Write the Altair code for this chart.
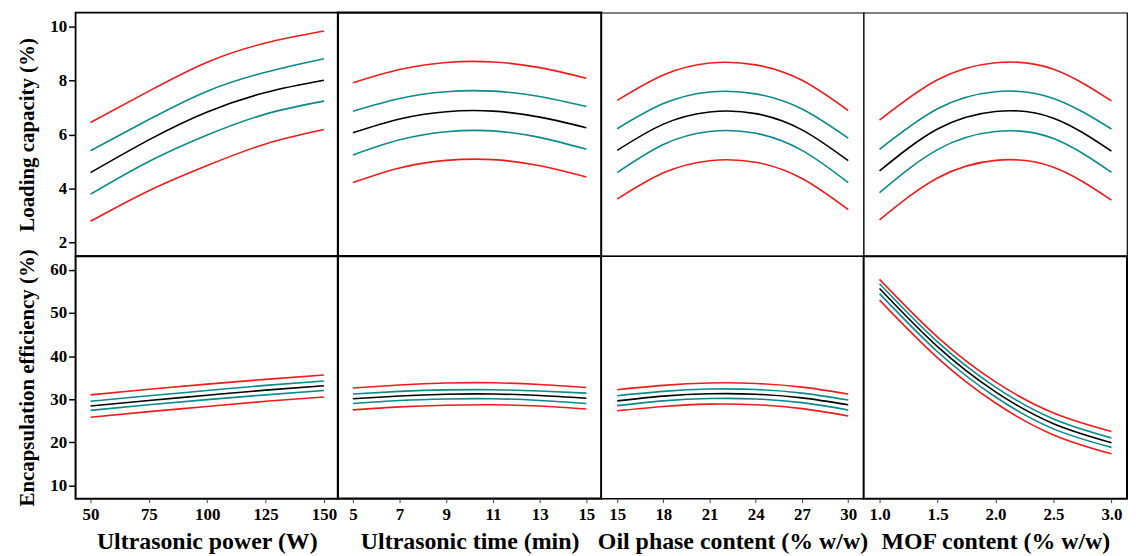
import altair as alt
import pandas as pd

# ---------------- data ----------------
series_names = ["Upper limit", "Upper band", "Predicted", "Lower band", "Lower limit"]
series_colors = ["#ee1c1c", "#0a8a8a", "#000000", "#0a8a8a", "#ee1c1c"]

power = [50, 75, 100, 125, 150]
time_min = [5, 7, 9, 11, 13, 15]
oil = [15, 18, 21, 24, 27, 30]
mof = [1.0, 1.5, 2.0, 2.5, 3.0]

# Loading capacity (%)
lc_power = {
    "Upper limit": [6.44, 7.6, 8.67, 9.38, 9.82],
    "Upper band": [5.40, 6.55, 7.6, 8.3, 8.80],
    "Predicted": [4.59, 5.8, 6.83, 7.55, 8.0],
    "Lower band": [3.79, 5.0, 5.98, 6.75, 7.23],
    "Lower limit": [2.79, 3.92, 4.85, 5.65, 6.18],
}
lc_time = {
    "Upper limit": [7.91, 8.40, 8.66, 8.68, 8.47, 8.08],
    "Upper band": [6.86, 7.33, 7.58, 7.60, 7.40, 7.03],
    "Predicted": [6.06, 6.57, 6.84, 6.86, 6.64, 6.25],
    "Lower band": [5.24, 5.80, 6.10, 6.13, 5.89, 5.45],
    "Lower limit": [4.22, 4.76, 5.04, 5.07, 4.84, 4.43],
}
lc_oil = {
    "Upper limit": [7.26, 8.20, 8.64, 8.57, 8.00, 6.88],
    "Upper band": [6.21, 7.14, 7.57, 7.50, 6.94, 5.86],
    "Predicted": [5.41, 6.38, 6.83, 6.77, 6.17, 5.03],
    "Lower band": [4.59, 5.63, 6.11, 6.04, 5.41, 4.22],
    "Lower limit": [3.61, 4.58, 5.03, 4.97, 4.37, 3.22],
}
lc_mof = {
    "Upper limit": [6.53, 8.02, 8.65, 8.41, 7.24],
    "Upper band": [5.45, 6.95, 7.58, 7.33, 6.20],
    "Predicted": [4.65, 6.20, 6.85, 6.60, 5.38],
    "Lower band": [3.85, 5.44, 6.11, 5.85, 4.60],
    "Lower limit": [2.84, 4.39, 5.04, 4.79, 3.57],
}

# Encapsulation efficiency (%)
ee_power = {
    "Upper limit": [31.0, 32.3, 33.5, 34.6, 35.6],
    "Upper band": [29.5, 30.8, 32.0, 33.2, 34.2],
    "Predicted": [28.4, 29.7, 30.9, 32.1, 33.1],
    "Lower band": [27.4, 28.7, 29.9, 31.0, 32.0],
    "Lower limit": [25.8, 27.1, 28.3, 29.5, 30.5],
}
ee_time = {
    "Upper limit": [32.6, 33.3, 33.75, 33.8, 33.4, 32.7],
    "Upper band": [31.2, 31.8, 32.15, 32.2, 31.9, 31.4],
    "Predicted": [30.1, 30.75, 31.15, 31.2, 30.85, 30.2],
    "Lower band": [29.0, 29.7, 30.05, 30.1, 29.7, 29.0],
    "Lower limit": [27.5, 28.2, 28.6, 28.7, 28.4, 27.7],
}
ee_oil = {
    "Upper limit": [32.2, 33.2, 33.75, 33.65, 32.8, 31.2],
    "Upper band": [30.8, 31.8, 32.35, 32.25, 31.4, 29.8],
    "Predicted": [29.6, 30.7, 31.25, 31.15, 30.3, 28.7],
    "Lower band": [28.5, 29.6, 30.15, 30.05, 29.2, 27.5],
    "Lower limit": [27.3, 28.3, 28.85, 28.7, 27.8, 26.1],
}
ee_mof = {
    "Upper limit": [57.8, 44.4, 34.0, 26.8, 22.5],
    "Upper band": [56.8, 43.3, 32.8, 25.4, 21.0],
    "Predicted": [55.7, 42.2, 31.7, 24.3, 19.9],
    "Lower band": [54.5, 41.0, 30.5, 23.1, 18.8],
    "Lower limit": [53.0, 39.6, 29.1, 21.7, 17.3],
}

x_titles = ["Ultrasonic power (W)", "Ultrasonic time (min)",
            "Oil phase content (% w/w)", "MOF content (% w/w)"]
x_ticks = [[50, 75, 100, 125, 150], [5, 7, 9, 11, 13, 15],
           [15, 18, 21, 24, 27, 30], [1.0, 1.5, 2.0, 2.5, 3.0]]
x_formats = ["d", "d", "d", ".1f"]
x_domains = [[43.6, 156.0], [4.36, 15.64], [13.97, 31.0], [0.863, 3.134]]
y_titles = ["Loading capacity (%)", "Encapsulation efficiency (%)"]
y_ticks = [[2, 4, 6, 8, 10], [10, 20, 30, 40, 50, 60]]
y_domains = [[1.5, 10.5], [6.9, 63.2]]

FONT = "Liberation Serif"


def to_frame(xs, d):
    rows = []
    for s in series_names:
        for xv, yv in zip(xs, d[s]):
            rows.append({"x": xv, "y": yv, "series": s})
    return pd.DataFrame(rows)


def panel(xs, d, col, row, w, h, stroke_w):
    df = to_frame(xs, d)
    if row == 1:
        xaxis = alt.Axis(title=x_titles[col], values=x_ticks[col], format=x_formats[col],
                         grid=False, domain=False, ticks=True, tickSize=4, tickColor="#444",
                         labelFont=FONT, labelFontWeight="bold", labelFontSize=17,
                         labelColor="black", labelPadding=4, labelFlush=False,
                         titleFont=FONT, titleFontWeight="bold", titleFontSize=24,
                         titleColor="black", titlePadding=7)
    else:
        xaxis = None
    if col == 0:
        yaxis = alt.Axis(title=y_titles[row], values=y_ticks[row], grid=False, domain=False,
                         ticks=True, tickSize=7, tickColor="black", tickWidth=1.5,
                         labelFont=FONT, labelFontWeight="bold", labelFontSize=17,
                         labelColor="black", labelPadding=2,
                         titleFont=FONT, titleFontWeight="bold", titleFontSize=21,
                         titleColor="black", titlePadding=12)
    else:
        yaxis = None
    return alt.Chart(df).mark_line(strokeWidth=1.6, interpolate="natural").encode(
        x=alt.X("x:Q", scale=alt.Scale(domain=x_domains[col], nice=False, zero=False), axis=xaxis),
        y=alt.Y("y:Q", scale=alt.Scale(domain=y_domains[row], nice=False, zero=False), axis=yaxis),
        color=alt.Color("series:N", scale=alt.Scale(domain=series_names, range=series_colors),
                        legend=None),
        detail="series:N",
    ).properties(width=w, height=h,
                 view=alt.ViewBackground(stroke="black", strokeWidth=stroke_w, fill="white"))


xs_list = [power, time_min, oil, mof]
top_data = [lc_power, lc_time, lc_oil, lc_mof]
bot_data = [ee_power, ee_time, ee_oil, ee_mof]
widths = [264, 265, 264, 265]
top_strokes = [1.8, 2.2, 1.2, 1.2]
bot_strokes = [2.0, 2.2, 1.4, 2.0]

panels = [panel(xs_list[i], top_data[i], i, 0, widths[i], 245, top_strokes[i]) for i in range(4)]
panels += [panel(xs_list[i], bot_data[i], i, 1, widths[i], 244, bot_strokes[i]) for i in range(4)]

chart = alt.concat(*panels, columns=4, spacing=0, bounds="flush").properties(
    padding={"left": 7, "top": 1, "right": 0, "bottom": 0},
    background="white",
).configure_view(stroke="black")

chart.save("out.html", embed_options={"renderer": "svg", "actions": False})
